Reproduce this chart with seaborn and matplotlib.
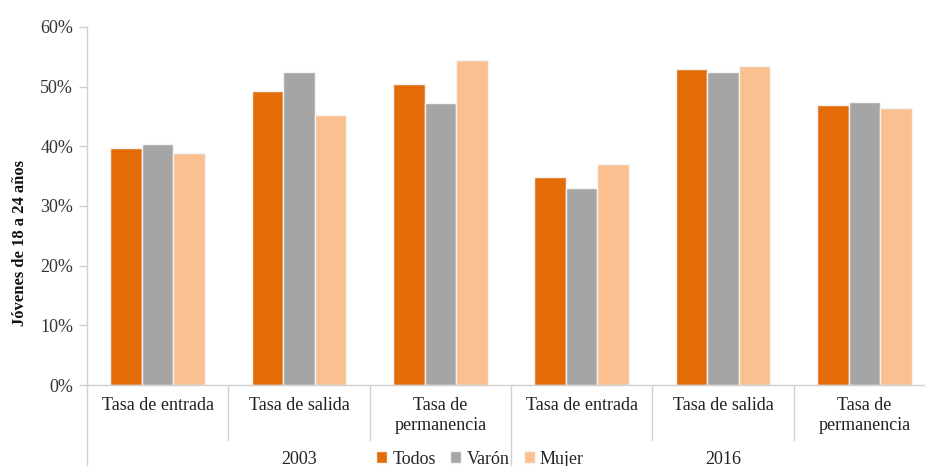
import matplotlib
matplotlib.use("Agg")
import matplotlib.pyplot as plt
import matplotlib.transforms as mtransforms
from matplotlib.ticker import PercentFormatter
import seaborn as sns
import pandas as pd

categories = ["Tasa de entrada", "Tasa de salida", "Tasa de\npermanencia",
              "Tasa de entrada", "Tasa de salida", "Tasa de\npermanencia"]
years = ["2003", "2016"]
series = ["Todos", "Varón", "Mujer"]
todos = [0.397, 0.492, 0.505, 0.348, 0.529, 0.469]
varon = [0.404, 0.524, 0.473, 0.331, 0.524, 0.474]
mujer = [0.388, 0.453, 0.544, 0.370, 0.534, 0.464]
colors = ["#E36C09", "#A5A5A5", "#FAC090"]

keys = [f"{y}|{c}" for y in years for c in categories[:3]]
rows = []
for name, vals in zip(series, [todos, varon, mujer]):
    for k, v in zip(keys, vals):
        rows.append({"grupo": k, "serie": name, "valor": v})
df = pd.DataFrame(rows)

sns.set_style("white")
plt.rcParams["font.family"] = ["Liberation Serif", "DejaVu Serif"]

fig = plt.figure(figsize=(9.25, 4.66), dpi=100)
ax = fig.add_axes([87/925, 1-385/466, (935-87)/925, (385-27)/466])

sns.barplot(data=df, x="grupo", y="valor", hue="serie", order=keys,
            hue_order=series, palette=colors, width=0.67, gap=0.0,
            edgecolor="#F4F4F4", linewidth=1.0, saturation=1, ax=ax, legend=True)

ax.set_ylim(0, 0.6)
ax.set_xlim(-0.5, 5.5)
ax.set_yticks([0, 0.1, 0.2, 0.3, 0.4, 0.5, 0.6])
ax.yaxis.set_major_formatter(PercentFormatter(1.0, decimals=0))
ax.tick_params(axis="y", labelsize=13, length=6, color="#D0D0D0", width=1,
               pad=4, labelcolor="#333333", left=True)
ax.set_xticks(range(6))
ax.set_xticklabels(categories, fontsize=13, color="#222222")
ax.tick_params(axis="x", length=0, pad=9)
ax.set_xlabel("")
ax.set_ylabel("")
fig.text(20/925, 1-243/466, "Jóvenes de 18 a 24 años", rotation=90,
         ha="center", va="center", fontsize=12, fontweight="bold",
         color="#111111")

for s in ["top", "right"]:
    ax.spines[s].set_visible(False)
for s in ["left", "bottom"]:
    ax.spines[s].set_color("#D0D0D0")
    ax.spines[s].set_linewidth(1)

trans = mtransforms.blended_transform_factory(ax.transData, ax.transAxes)
short = -(440-385)/358
full = -(470-385)/358
for xs in [0.5, 1.5, 3.5, 4.5]:
    ax.plot([xs, xs], [0, short], transform=trans, color="#D0D0D0", lw=1,
            clip_on=False)
for xs in [-0.5, 2.5]:
    ax.plot([xs, xs], [0, full], transform=trans, color="#D0D0D0", lw=1,
            clip_on=False)

ylab = -(459-385)/358
ax.text(1, ylab, years[0], transform=trans, ha="center", va="center",
        fontsize=13, color="#222222")
ax.text(4, ylab, years[1], transform=trans, ha="center", va="center",
        fontsize=13, color="#222222")

handles, labels = ax.get_legend_handles_labels()
ax.get_legend().remove()
fig.legend(handles, labels, loc="center", bbox_to_anchor=(480/925, 1-459/466),
           ncol=3, frameon=False, fontsize=13, handlelength=0.6,
           handleheight=0.6, handletextpad=0.3, columnspacing=0.8)

fig.savefig("out.png", dpi=100)
